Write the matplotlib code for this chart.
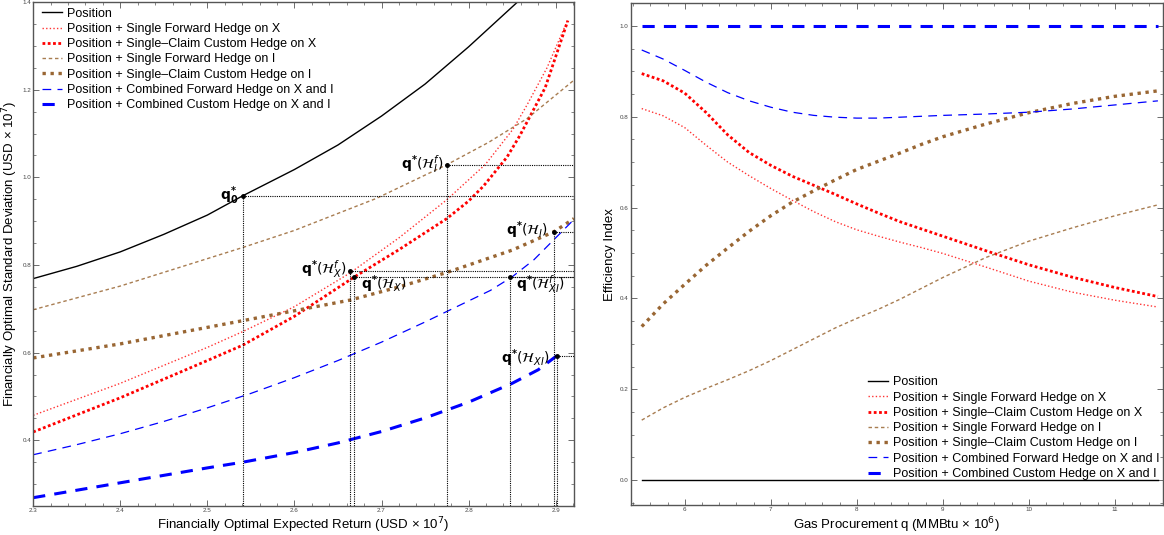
import numpy as np
import matplotlib
matplotlib.use('Agg')
import matplotlib.pyplot as plt
from matplotlib.ticker import MultipleLocator

# ---- left panel: return vs std dev frontier for each strategy ----
pos_x = [2.30, 2.35, 2.40, 2.45, 2.50, 2.5406, 2.60, 2.65, 2.70, 2.75, 2.80, 2.856]
pos_y = [0.769, 0.797, 0.830, 0.870, 0.914, 0.958, 1.018, 1.074, 1.140, 1.213, 1.298, 1.400]

fwdX_x = [2.30, 2.40, 2.50, 2.5406, 2.60, 2.664, 2.72, 2.775, 2.819, 2.851, 2.867, 2.890, 2.914]
fwdX_y = [0.457, 0.530, 0.612, 0.648, 0.705, 0.782, 0.862, 0.949, 1.029, 1.110, 1.165, 1.250, 1.360]

cusX_x = [2.30, 2.40, 2.50, 2.5406, 2.60, 2.669, 2.72, 2.775, 2.80, 2.817, 2.844, 2.859, 2.888, 2.914]
cusX_y = [0.419, 0.497, 0.582, 0.617, 0.683, 0.773, 0.835, 0.906, 0.946, 0.980, 1.046, 1.096, 1.205, 1.358]

fwdI_x = [2.30, 2.40, 2.5406, 2.60, 2.694, 2.775, 2.823, 2.867, 2.921]
fwdI_y = [0.698, 0.752, 0.840, 0.879, 0.952, 1.029, 1.080, 1.134, 1.222]

cusI_x = [2.30, 2.40, 2.5406, 2.664, 2.72, 2.775, 2.80, 2.850, 2.898, 2.921]
cusI_y = [0.588, 0.620, 0.673, 0.720, 0.750, 0.783, 0.800, 0.834, 0.876, 0.906]

fwdXI_x = [2.30, 2.35, 2.40, 2.45, 2.50, 2.55, 2.60, 2.65, 2.70, 2.75, 2.80, 2.825, 2.85, 2.875, 2.90, 2.921]
fwdXI_y = [0.367, 0.390, 0.415, 0.443, 0.474, 0.507, 0.543, 0.582, 0.624, 0.670, 0.718, 0.742, 0.773, 0.812,
           0.862, 0.904]

cusXI_x = [2.30, 2.35, 2.40, 2.45, 2.50, 2.5406, 2.60, 2.65, 2.70, 2.75, 2.80, 2.85, 2.88, 2.906]
cusXI_y = [0.269, 0.286, 0.303, 0.320, 0.337, 0.350, 0.372, 0.394, 0.420, 0.451, 0.487, 0.530, 0.561, 0.600]

# optimal points
opt_names = ['q0', 'HIf', 'HXf', 'HX', 'HXIf', 'HI', 'HXI']
opt_x = [2.5406, 2.775, 2.6637, 2.6689, 2.847, 2.898, 2.901]
opt_y = [0.958, 1.029, 0.786, 0.773, 0.773, 0.876, 0.592]
opt_labels = [r'$\mathbf{q}^{\mathbf{*}}_{\mathbf{0}}$',
              r'$\mathbf{q}^{\mathbf{*}}(\mathcal{H}^{f}_{I})$',
              r'$\mathbf{q}^{\mathbf{*}}(\mathcal{H}^{f}_{X})$',
              r'$\mathbf{q}^{\mathbf{*}}(\mathcal{H}_{X})$',
              r'$\mathbf{q}^{\mathbf{*}}(\mathcal{H}^{f}_{XI})$',
              r'$\mathbf{q}^{\mathbf{*}}(\mathcal{H}_{I})$',
              r'$\mathbf{q}^{\mathbf{*}}(\mathcal{H}_{XI})$']

# ---- right panel: efficiency index vs gas procurement ----
q = [5.5, 5.75, 6.0, 6.25, 6.5, 6.75, 7.0, 7.25, 7.5, 7.75, 8.0, 8.25, 8.5, 8.75, 9.0, 9.5, 10.0, 10.5, 11.0, 11.5]
eff_pos = [0.0] * len(q)
eff_fwdX = [0.818, 0.802, 0.776, 0.737, 0.700, 0.670, 0.642, 0.616, 0.591, 0.569, 0.551, 0.537, 0.524, 0.512,
            0.499, 0.469, 0.438, 0.414, 0.396, 0.381]
eff_cusX = [0.895, 0.879, 0.852, 0.809, 0.760, 0.721, 0.693, 0.669, 0.649, 0.629, 0.608, 0.588, 0.569, 0.553,
            0.537, 0.505, 0.474, 0.447, 0.424, 0.404]
eff_fwdI = [0.132, 0.159, 0.182, 0.202, 0.221, 0.241, 0.263, 0.287, 0.311, 0.335, 0.356, 0.376, 0.398, 0.422,
            0.446, 0.490, 0.526, 0.555, 0.582, 0.606]
eff_cusI = [0.338, 0.388, 0.431, 0.473, 0.511, 0.548, 0.582, 0.612, 0.637, 0.661, 0.684, 0.702, 0.720, 0.739,
            0.756, 0.784, 0.809, 0.829, 0.845, 0.857]
eff_fwdXI = [0.947, 0.927, 0.902, 0.876, 0.853, 0.835, 0.821, 0.810, 0.803, 0.799, 0.797, 0.797, 0.799, 0.801,
             0.803, 0.806, 0.810, 0.817, 0.826, 0.835]
eff_cusXI = [1.0] * len(q)

labels = ['Position',
          'Position + Single Forward Hedge on X',
          'Position + Single\u2013Claim Custom Hedge on X',
          'Position + Single Forward Hedge on I',
          'Position + Single\u2013Claim Custom Hedge on I',
          'Position + Combined Forward Hedge on X and I',
          'Position + Combined Custom Hedge on X and I']

red = '#ff0000'
brown = '#996633'
blue = '#0000ff'
styles = [dict(color='black', lw=1.0, ls='-'),
          dict(color=red, lw=1.0, ls=(0, (1, 1.6)), alpha=0.8),
          dict(color=red, lw=2.0, ls=(0, (1, 0.9))),
          dict(color=brown, lw=1.0, ls=(0, (2.5, 2)), alpha=0.85),
          dict(color=brown, lw=2.4, ls=(0, (1, 1.4))),
          dict(color=blue, lw=0.9, ls=(0, (7, 5))),
          dict(color=blue, lw=2.2, ls=(0, (4, 3)))]

plt.rcParams['font.family'] = ['Liberation Sans', 'DejaVu Sans']
plt.rcParams['mathtext.fontset'] = 'dejavusans'
fig = plt.figure(figsize=(11.64, 5.35), dpi=100)
ax1 = fig.add_axes([0.0285, 0.055, 0.4646, 0.941])
ax2 = fig.add_axes([0.5417, 0.056, 0.4575, 0.938])

left_series = [(pos_x, pos_y), (fwdX_x, fwdX_y), (cusX_x, cusX_y), (fwdI_x, fwdI_y),
               (cusI_x, cusI_y), (fwdXI_x, fwdXI_y), (cusXI_x, cusXI_y)]
for (xs, ys), st, lab in zip(left_series, styles, labels):
    ax1.plot(xs, ys, label=lab, **st)

xmax_left = 2.921
for x0, y0 in zip(opt_x, opt_y):
    ax1.plot([x0, x0], [0.2, y0], color='black', lw=0.8, ls=(0, (1, 1)))
    ax1.plot([x0, xmax_left], [y0, y0], color='black', lw=0.8, ls=(0, (1, 1)))
ax1.plot(opt_x, opt_y, 'o', color='black', ms=2.5, zorder=5)

# label placement next to each point
lab_pos = {'q0': (2.536, 0.958, 'right'), 'HIf': (2.771, 1.031, 'right'), 'HXf': (2.660, 0.790, 'right'),
           'HX': (2.676, 0.757, 'left'), 'HXIf': (2.855, 0.757, 'left'), 'HI': (2.891, 0.880, 'right'),
           'HXI': (2.893, 0.588, 'right')}
for name, lab in zip(opt_names, opt_labels):
    tx, ty, ha = lab_pos[name]
    ax1.text(tx, ty, lab, ha=ha, va='center', fontsize=10)

ax1.set_xlim(2.3, xmax_left)
ax1.set_ylim(0.251, 1.4)
ax1.xaxis.set_major_locator(MultipleLocator(0.1))
ax1.xaxis.set_minor_locator(MultipleLocator(0.02))
ax1.yaxis.set_major_locator(MultipleLocator(0.2))
ax1.yaxis.set_minor_locator(MultipleLocator(0.05))
ax1.set_xlabel('Financially Optimal Expected Return (USD \u00d7 10$^7$)', fontsize=9.5, labelpad=2)
ax1.set_ylabel('Financially Optimal Standard Deviation (USD \u00d7 10$^7$)', fontsize=9.5, labelpad=2)
ax1.legend(loc='upper left', bbox_to_anchor=(0.012, 0.994), borderaxespad=0, frameon=False, fontsize=9,
           handlelength=1.6, handletextpad=0.4, labelspacing=0.26, borderpad=0.2)

right_series = [eff_pos, eff_fwdX, eff_cusX, eff_fwdI, eff_cusI, eff_fwdXI, eff_cusXI]
for ys, st, lab in zip(right_series, styles, labels):
    ax2.plot(q, ys, label=lab, **st)

ax2.set_xlim(5.37, 11.56)
ax2.set_ylim(-0.055, 1.05)
ax2.xaxis.set_major_locator(MultipleLocator(1))
ax2.xaxis.set_minor_locator(MultipleLocator(0.2))
ax2.yaxis.set_major_locator(MultipleLocator(0.2))
ax2.yaxis.set_minor_locator(MultipleLocator(0.05))
ax2.set_xlabel('Gas Procurement q (MMBtu \u00d7 10$^6$)', fontsize=9.5, labelpad=2)
ax2.set_ylabel('Efficiency Index', fontsize=9.5, labelpad=3)
ax2.legend(loc='lower left', bbox_to_anchor=(0.441, 0.045), borderaxespad=0, frameon=False, fontsize=9,
           handlelength=1.6, handletextpad=0.4, labelspacing=0.26, borderpad=0.2)

for ax in (ax1, ax2):
    for sp in ax.spines.values():
        sp.set_color('#555555')
        sp.set_linewidth(1.0)
    ax.tick_params(which='both', direction='in', top=True, right=True, colors='#555555',
                   labelsize=4.5, labelcolor='#444444', pad=1.5)
    ax.tick_params(which='major', length=4, width=0.6)
    ax.tick_params(which='minor', length=2, width=0.5)

fig.savefig('out.png', dpi=100)
